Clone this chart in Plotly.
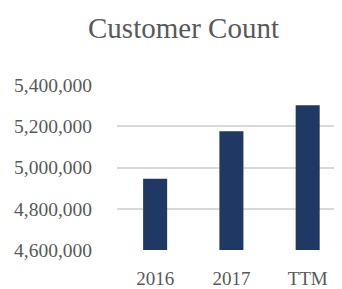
import plotly.graph_objects as go

categories = ["2016", "2017", "TTM"]
customers = [4946000, 5176000, 5302000]
y_ticks = [4600000, 4800000, 5000000, 5200000, 5400000]
y_tick_labels = ["4,600,000", "4,800,000", "5,000,000", "5,200,000", "5,400,000"]

# page body has an 8px margin, so the figure is offset by 8px
OFF = 8
W, H = 342 - OFF, 289 - OFF
font_family = "Liberation Serif, Times New Roman, serif"
grey = "#595959"

fig = go.Figure(go.Bar(
    x=categories,
    y=customers,
    marker=dict(color="#203864", line=dict(width=0)),
))

fig.update_layout(
    width=W, height=H,
    margin=dict(l=117 - OFF, r=0, t=85 - OFF, b=H - (250 - OFF)),
    paper_bgcolor="white",
    plot_bgcolor="white",
    bargap=0.685,
    showlegend=False,
    title=dict(
        text="Customer Count",
        font=dict(family=font_family, size=29, color=grey),
        x=(183.5 - OFF) / W, xanchor="center", xref="container",
        y=1 - (28 - OFF) / H, yanchor="middle", yref="container",
    ),
    font=dict(family=font_family, color=grey),
)

fig.update_xaxes(
    type="category",
    range=[-0.5, 2.45],
    showgrid=False,
    showline=False,
    zeroline=False,
    ticks="",
    automargin=False,
    tickfont=dict(family=font_family, size=19, color=grey),
    ticklabelstandoff=15,
)

fig.update_yaxes(
    range=[4600000, 5400000],
    tickvals=y_ticks,
    ticktext=y_tick_labels,
    showgrid=True,
    gridcolor="#d9d9d9",
    gridwidth=1.6,
    zeroline=False,
    showline=False,
    ticks="",
    automargin=False,
    tickfont=dict(family=font_family, size=19.5, color=grey),
    ticklabelstandoff=24,
)

fig.write_html("out.html")
